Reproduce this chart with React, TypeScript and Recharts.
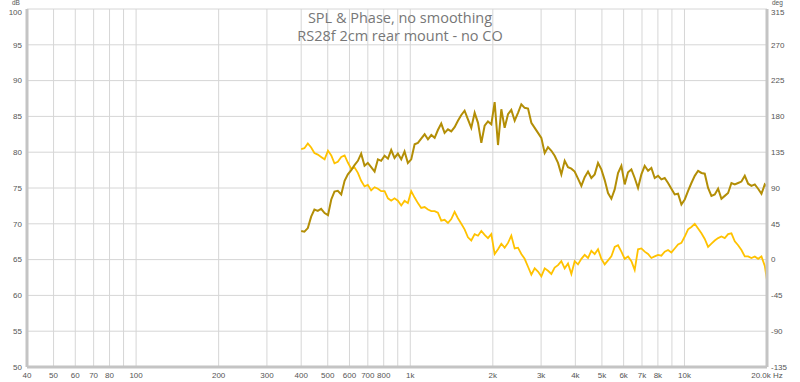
import React from 'react';
import { LineChart, Line, XAxis, YAxis, CartesianGrid } from 'recharts';

// frequency points (Hz)
const freqs = [
  400, 411, 423, 435, 447, 460, 473, 487, 501, 515,
  529, 544, 560, 576, 592, 609, 626, 644, 662, 681,
  700, 720, 741, 762, 783, 806, 829, 852, 876, 901,
  927, 953, 980, 1008, 1037, 1066, 1096, 1128, 1160, 1193,
  1227, 1261, 1297, 1334, 1372, 1411, 1451, 1492, 1535, 1578,
  1623, 1669, 1717, 1766, 1816, 1867, 1920, 1975, 2031, 2089,
  2148, 2209, 2272, 2336, 2403, 2471, 2541, 2613, 2688, 2764,
  2843, 2923, 3006, 3092, 3179, 3270, 3362, 3458, 3556, 3657,
  3761, 3868, 3977, 4090, 4207, 4326, 4449, 4575, 4705, 4839,
  4976, 5118, 5263, 5412, 5566, 5724, 5887, 6054, 6226, 6403,
  6584, 6771, 6964, 7161, 7365, 7574, 7789, 8010, 8238, 8472,
  8712, 8960, 9214, 9476, 9747, 10024, 10309, 10601, 10902, 11212,
  11531, 11858, 12195, 12541, 12897, 13264, 13641, 14028, 14427, 14837,
  15258, 15692, 16137, 16596, 17067, 17552, 18050, 18563, 19090, 19634,
  20000,
];

// SPL in dB (left axis)
const spl = [
  69.0, 68.9, 69.4, 71.0, 72.0, 71.8, 72.1, 71.5, 71.2, 73.4,
  74.5, 74.6, 74.1, 76.0, 76.9, 77.5, 78.2, 78.8, 79.8, 78.1,
  78.5, 77.9, 77.3, 79.0, 78.8, 79.5, 79.1, 80.3, 79.2, 79.8,
  79.0, 80.1, 78.5, 79.0, 81.1, 81.3, 81.9, 82.5, 81.8, 82.4,
  82.0, 83.1, 84.0, 82.7, 83.2, 82.9, 83.5, 84.4, 85.2, 85.8,
  84.6, 83.4, 85.5, 84.1, 81.3, 83.7, 84.3, 83.9, 87.0, 81.0,
  86.0, 83.4, 85.3, 85.9, 84.4, 85.5, 86.7, 86.2, 86.1, 84.1,
  83.4, 82.7, 82.0, 79.9, 80.7, 80.2, 79.5, 78.5, 76.9, 78.8,
  77.9, 77.7, 77.3, 76.3, 75.3, 76.5, 77.3, 76.4, 76.9, 78.5,
  77.6, 76.1, 74.3, 73.5, 74.8, 77.1, 78.1, 75.5, 77.2, 77.6,
  76.4, 75.0, 76.9, 78.1, 77.4, 77.8, 76.4, 76.7, 76.2, 76.4,
  75.7, 74.9, 74.1, 74.2, 72.7, 73.4, 74.6, 75.7, 76.7, 77.4,
  77.1, 77.0, 75.0, 73.9, 74.1, 74.9, 73.5, 73.9, 74.3, 75.7,
  75.5, 75.7, 75.9, 76.7, 75.6, 75.3, 75.5, 74.9, 74.2, 75.5,
  75.2,
];

// phase in degrees (right axis)
const phase = [
  139, 140, 146, 141, 134, 132, 129, 126, 137, 131,
  121, 123, 129, 131, 122, 114, 116, 109, 99, 92,
  94, 87, 91, 89, 86, 86, 77, 74, 77, 74,
  68, 74, 71, 86, 78, 71, 65, 66, 63, 61,
  61, 59, 49, 50, 46, 51, 60, 52, 45, 38,
  28, 24, 32, 30, 36, 31, 27, 32, 7, 13,
  20, 15, 21, 30, 14, 15, 7, 1, -9, -19,
  -11, -15, -21, -11, -14, -18, -10, -7, -2, -11,
  -5, -18, -2, -6, 1, 6, 2, 11, 7, 13,
  1, -6, -1, 4, 16, 18, 10, 1, 4, -2,
  -13, 13, 14, 10, 7, 2, 4, 6, 5, 10,
  12, 9, 14, 19, 21, 29, 38, 41, 45, 39,
  33, 26, 16, 20, 24, 27, 29, 27, 32, 33,
  23, 18, 12, 4, 4, 2, 4, 1, 4, -8,
  -26,
];

const freqTicks = [40, 50, 60, 70, 80, 90, 100, 200, 300, 400, 500, 600, 700, 800, 900,
  1000, 2000, 3000, 4000, 5000, 6000, 7000, 8000, 9000, 10000, 20000];
const unlabelled = [90, 900, 9000];
const dbTicks = [50, 55, 60, 65, 70, 75, 80, 85, 90, 95, 100];
const degTicks = [-135, -90, -45, 0, 45, 90, 135, 180, 225, 270, 315];

const data = freqs.map((f, i) => ({ f, spl: spl[i], phase: phase[i] }));

const fmtFreq = (v: number) => {
  if (unlabelled.includes(v)) return '';
  if (v === 20000) return '20.0k Hz';
  if (v >= 1000) return `${v / 1000}k`;
  return `${v}`;
};

const tickFont = 'Liberation Sans, Arial, sans-serif';
const tickStyle = { fill: '#555', fontSize: 8, fontFamily: tickFont };
const frame = { stroke: '#c4c4c4', strokeWidth: 3 };
const unitStyle: React.CSSProperties = {
  position: 'absolute',
  top: 0,
  fontSize: 6.5,
  lineHeight: '6px',
  color: '#555',
  fontFamily: tickFont,
};

// y tick: the top label sits a little lower, under the unit caption
const YTick = (topValue: number) => (props: any) => {
  const { x, y, payload, textAnchor } = props;
  const shift = payload.value === topValue ? 3 : 0;
  return (
    <text x={x} y={y + shift} dy="0.35em" textAnchor={textAnchor} {...tickStyle}>
      {payload.value}
    </text>
  );
};

export default function App() {
  return (
    <div style={{ position: 'absolute', left: 0, top: 0, width: 800, height: 382, background: '#fff' }}>
      <LineChart width={800} height={382} data={data} margin={{ top: 9, right: 0, bottom: 0, left: 0 }}>
        <CartesianGrid stroke="#d6d6d6" strokeWidth={1} yAxisId="db" />
        <XAxis
          dataKey="f"
          type="number"
          scale="log"
          domain={[40, 20000]}
          ticks={freqTicks}
          tickFormatter={fmtFreq}
          interval={0}
          allowDataOverflow
          height={15}
          tickLine={false}
          tickSize={0}
          tickMargin={5}
          axisLine={frame}
          tick={tickStyle}
        />
        <XAxis
          xAxisId="top"
          orientation="top"
          dataKey="f"
          type="number"
          scale="log"
          domain={[40, 20000]}
          height={0}
          tick={false}
          tickLine={false}
          axisLine={frame}
        />
        <YAxis
          yAxisId="db"
          domain={[50, 100]}
          ticks={dbTicks}
          interval={0}
          width={27}
          tickLine={false}
          tickSize={0}
          tickMargin={5}
          axisLine={frame}
          tick={YTick(100)}
        />
        <YAxis
          yAxisId="deg"
          orientation="right"
          domain={[-135, 315]}
          ticks={degTicks}
          interval={0}
          width={33}
          tickLine={false}
          tickSize={0}
          tickMargin={4}
          axisLine={frame}
          tick={YTick(315)}
        />
        <Line
          yAxisId="deg"
          dataKey="phase"
          type="linear"
          stroke="#FFC200"
          strokeWidth={1.8}
          dot={false}
          isAnimationActive={false}
        />
        <Line
          yAxisId="db"
          dataKey="spl"
          type="linear"
          stroke="#B38E06"
          strokeWidth={2}
          dot={false}
          isAnimationActive={false}
        />
      </LineChart>
      <div style={{ ...unitStyle, left: 12 }}>dB</div>
      <div style={{ ...unitStyle, left: 772 }}>deg</div>
      <div
        style={{
          position: 'absolute',
          left: 250,
          top: 9,
          width: 300,
          textAlign: 'center',
          fontFamily: 'Open Sans, sans-serif',
          fontSize: 14.5,
          lineHeight: '18px',
          color: '#777',
        }}
      >
        <div>SPL &amp; Phase, no smoothing</div>
        <div>RS28f 2cm rear mount - no CO</div>
      </div>
    </div>
  );
}
